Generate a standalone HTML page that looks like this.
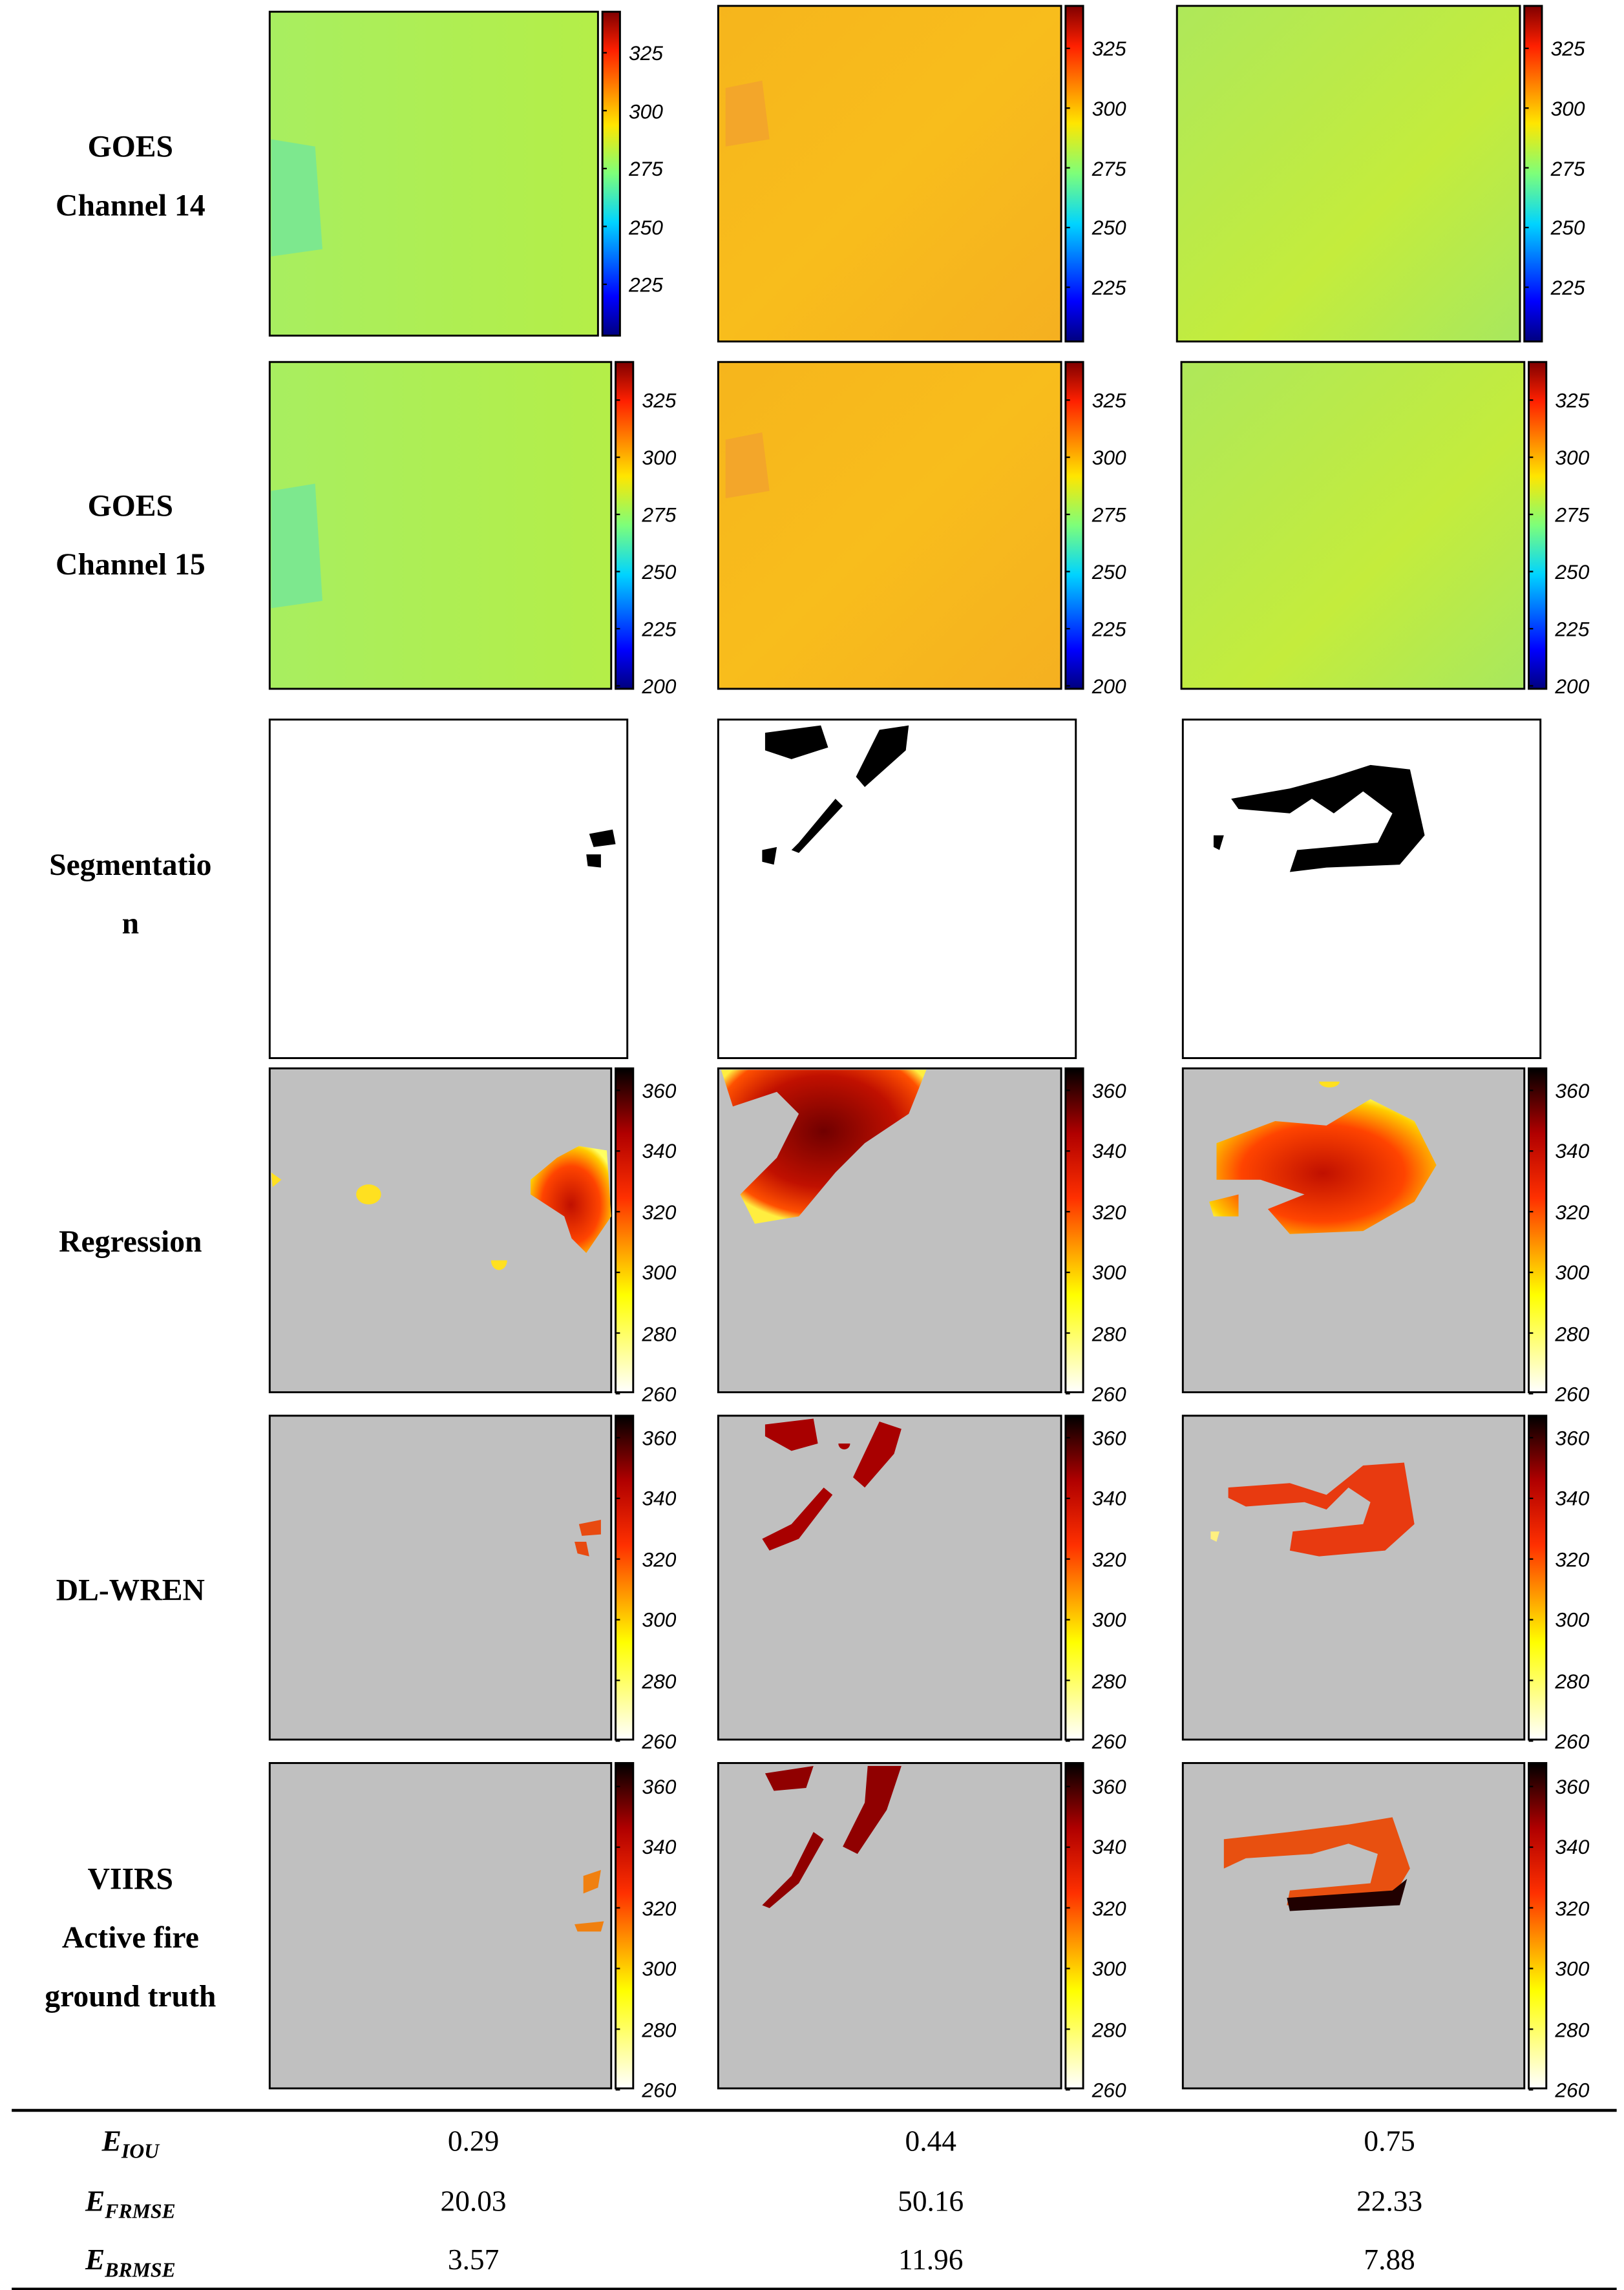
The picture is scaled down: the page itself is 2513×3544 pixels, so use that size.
<!DOCTYPE html>
<html><head><meta charset="utf-8">
<style>
html,body{margin:0;padding:0;background:#fff;}
body{width:2513px;height:3543px;overflow:hidden;position:relative;}
#wrap{position:absolute;left:0;top:0;width:1108px;height:1562px;transform:scale(2.26805);transform-origin:0 0;font-family:"Liberation Serif",serif;}
.lbl{position:absolute;width:178px;left:0;text-align:center;font-weight:bold;font-size:21px;line-height:40px;}
.tick{position:absolute;font-family:"Liberation Sans",sans-serif;font-style:italic;font-size:14px;transform:translateY(-50%);}
.cell{position:absolute;font-size:20px;transform:translate(-50%,-50%);}
</style></head>
<body>
<div id="wrap">
<div class="lbl" style="top:80px">GOES<br>Channel 14</div>
<div class="lbl" style="top:325px">GOES<br>Channel 15</div>
<div class="lbl" style="top:570px">Segmentatio<br>n</div>
<div class="lbl" style="top:827px">Regression</div>
<div class="lbl" style="top:1065px">DL-WREN</div>
<div class="lbl" style="top:1262px">VIIRS<br>Active fire<br>ground truth</div>
<svg id="svg" width="1108" height="1562" style="position:absolute;left:0;top:0">
<defs>
<linearGradient id="jet" x1="0" y1="1" x2="0" y2="0">
<stop offset="0" stop-color="#00007f"/><stop offset="0.12" stop-color="#0000ff"/><stop offset="0.35" stop-color="#00d4ff"/><stop offset="0.5" stop-color="#7dff7a"/><stop offset="0.65" stop-color="#ffe600"/><stop offset="0.88" stop-color="#ff2000"/><stop offset="1" stop-color="#800000"/></linearGradient>
<linearGradient id="hot" x1="0" y1="1" x2="0" y2="0">
<stop offset="0" stop-color="#ffffff"/><stop offset="0.3" stop-color="#ffff00"/><stop offset="0.6" stop-color="#ff3000"/><stop offset="0.8" stop-color="#b00000"/><stop offset="1" stop-color="#000000"/></linearGradient>
<linearGradient id="g1" x1="0" y1="0" x2="1" y2="0"><stop offset="0" stop-color="#a8ee60"/><stop offset="1" stop-color="#b4ee48"/></linearGradient>
<linearGradient id="g2" x1="0" y1="0" x2="1" y2="1"><stop offset="0" stop-color="#f6b51c"/><stop offset="0.5" stop-color="#f8bd1c"/><stop offset="1" stop-color="#f5b020"/></linearGradient>
<linearGradient id="g3" x1="0" y1="0" x2="1" y2="1"><stop offset="0" stop-color="#aee85a"/><stop offset="0.6" stop-color="#c4ec3c"/><stop offset="1" stop-color="#a8e85e"/></linearGradient>
<radialGradient id="fire" cx="0.5" cy="0.55" r="0.6"><stop offset="0" stop-color="#c01000"/><stop offset="0.6" stop-color="#ff4400"/><stop offset="0.9" stop-color="#ffcc00"/><stop offset="1" stop-color="#ffff60"/></radialGradient>
<radialGradient id="fire2" cx="0.5" cy="0.4" r="0.6"><stop offset="0" stop-color="#700000"/><stop offset="0.6" stop-color="#c01000"/><stop offset="0.9" stop-color="#ff5000"/><stop offset="1" stop-color="#ffee40"/></radialGradient>
</defs>
</svg>
<div id="ticks"></div>
<div style="position:absolute;left:8px;top:1439px;width:1095px;height:1.5px;background:#000"></div>
<div style="position:absolute;left:8px;top:1561px;width:1095px;height:1.5px;background:#000"></div>
<div class="cell" style="left:89px;top:1464px;font-weight:bold;font-style:italic">E<sub style="font-size:14px">IOU</sub></div>
<div class="cell" style="left:89px;top:1505px;font-weight:bold;font-style:italic">E<sub style="font-size:14px">FRMSE</sub></div>
<div class="cell" style="left:89px;top:1545px;font-weight:bold;font-style:italic">E<sub style="font-size:14px">BRMSE</sub></div>
<div id="table"></div>
</div>
<script>
const metrics=["eiou","efrmse","ebrmse"];
const col1Values=["0.29","20.03","3.57"];
const col2Values=["0.44","50.16","11.96"];
const col3Values=["0.75","22.33","7.88"];
const jetTicks1=[325,300,275,250,225];
const jetTicks2=[325,300,275,250,225,200];
const hotTicks=[360,340,320,300,280,260];
const NS="http://www.w3.org/2000/svg";
const svg=document.getElementById('svg');
const ticksDiv=document.getElementById('ticks');
function rect(x,y,w,h,fill,name,stroke){const r=document.createElementNS(NS,'rect');r.setAttribute('x',x);r.setAttribute('y',y);r.setAttribute('width',w);r.setAttribute('height',h);r.setAttribute('fill',fill);if(stroke){r.setAttribute('stroke','#000');r.setAttribute('stroke-width',1.3);}


svg.appendChild(r);return r;}
function path(d,fill,name){const p=document.createElementNS(NS,'path');p.setAttribute('d',d);p.setAttribute('fill',fill);


svg.appendChild(p);}
function cbar(x,y,h,grad,ticks,t0,t1,name){rect(x,y,12,h,'url(#'+grad+')',name,true);
ticks.forEach((t,i)=>{const ty=t0+(t1-t0)*i/(ticks.length-1);
const l=document.createElementNS(NS,'line');l.setAttribute('x1',x);l.setAttribute('x2',x+3);l.setAttribute('y1',ty);l.setAttribute('y2',ty);l.setAttribute('stroke','#000');svg.appendChild(l);
const d=document.createElement('div');d.className='tick';d.style.left=(x+18)+'px';d.style.top=ty+'px';d.textContent=t;


ticksDiv.appendChild(d);});}
// row 1
rect(184,8,224,221,'url(#g1)','ch14-panel-1',true);
path('M185 95 L215 100 L220 170 L185 175Z','#7de88e','ch14-cool-region');
cbar(411,8,221,'jet',jetTicks1,36,194,'ch14-colorbar-1');
rect(490,4,234,229,'url(#g2)','ch14-panel-2',true);
path('M495 60 L520 55 L525 95 L495 100Z','#f3a62a','ch14-warm-patch');
cbar(727,4,229,'jet',jetTicks1,33,196,'ch14-colorbar-2');
rect(803,4,234,229,'url(#g3)','ch14-panel-3',true);
cbar(1040,4,229,'jet',jetTicks1,33,196,'ch14-colorbar-3');
// row 2
rect(184,247,233,223,'url(#g1)','ch15-panel-1',true);
path('M185 335 L215 330 L220 410 L185 415Z','#7de88e','ch15-cool-region');
cbar(420,247,223,'jet',jetTicks2,273,468,'ch15-colorbar-1');
rect(490,247,234,223,'url(#g2)','ch15-panel-2',true);
path('M495 300 L520 295 L525 335 L495 340Z','#f3a62a','ch15-warm-patch');
cbar(727,247,223,'jet',jetTicks2,273,468,'ch15-colorbar-2');
rect(806,247,234,223,'url(#g3)','ch15-panel-3',true);
cbar(1043,247,223,'jet',jetTicks2,273,468,'ch15-colorbar-3');
// row 3 segmentation
rect(184,491,244,231,'#fff','seg-panel-1',true);
path('M402 569 L418 566 L420 576 L405 578Z M400 583 L410 583 L410 592 L401 591Z','#000','seg-mask-1');
rect(490,491,244,231,'#fff','seg-panel-2',true);
path('M522 500 L560 495 L565 510 L540 518 L522 512Z M600 498 L620 495 L618 512 L590 537 L584 530Z M570 545 L545 575 L540 580 L545 582 L575 550Z M520 580 L530 578 L528 590 L520 588Z','#000','seg-mask-2');
rect(807,491,244,231,'#fff','seg-panel-3',true);
path('M840 545 L880 538 L910 530 L935 522 L962 525 L972 570 L955 590 L905 592 L880 595 L885 580 L940 575 L950 555 L930 540 L910 555 L895 545 L880 555 L845 552Z M828 570 L835 570 L832 580 L828 578Z','#000','seg-mask-3');
// rows 4-6
const hotRows=[[729,221,'regression',744,951],[966,221,'dlwren',981,1188],[1203,222,'viirs',1219,1426]];
hotRows.forEach(r=>{
 rect(184,r[0],233,r[1],'#c0c0c0',r[2]+'-panel-1',true);cbar(420,r[0],r[1],'hot',hotTicks,r[3],r[4],r[2]+'-colorbar-1');
 rect(490,r[0],234,r[1],'#c0c0c0',r[2]+'-panel-2',true);cbar(727,r[0],r[1],'hot',hotTicks,r[3],r[4],r[2]+'-colorbar-2');
 rect(807,r[0],233,r[1],'#c0c0c0',r[2]+'-panel-3',true);cbar(1043,r[0],r[1],'hot',hotTicks,r[3],r[4],r[2]+'-colorbar-3');
});
// regression blobs
path('M362 805 L380 790 L395 782 L414 785 L417 830 L400 855 L390 845 L385 830 L362 815Z','url(#fire)','regression-fire-1');
path('M243 815 A5 4 0 1 0 260 815 A5 4 0 1 0 243 815Z M335 860 A5 6 0 1 0 346 860Z M185 800 L192 805 L186 810Z','#ffe020','regression-spots-1');
path('M492 730 L632 730 L620 760 L590 780 L570 800 L545 830 L515 835 L505 815 L530 790 L545 760 L530 745 L500 755Z','url(#fire2)','regression-fire-2');
path('M830 780 L870 765 L905 768 L935 750 L965 765 L980 795 L965 820 L930 840 L880 842 L865 825 L890 815 L860 805 L830 805Z M825 820 L845 815 L845 830 L828 830Z','url(#fire)','regression-fire-3');
path('M900 738 A7 4 0 1 0 914 738Z','#ffe020','regression-spot-3');
// dl-wren blobs
path('M395 1040 L410 1037 L410 1047 L397 1048Z M392 1052 L400 1052 L402 1062 L394 1060Z','#e84a10','dlwren-mask-1');
path('M522 972 L555 968 L558 985 L540 990 L522 980Z M600 970 L615 975 L610 992 L590 1015 L582 1008Z M568 1020 L545 1050 L525 1058 L520 1050 L540 1040 L562 1015Z M572 985 A4 4 0 1 0 580 985Z','#a80000','dlwren-mask-2');
path('M838 1015 L880 1012 L905 1020 L930 1000 L958 998 L965 1040 L945 1058 L900 1062 L880 1058 L882 1045 L930 1040 L935 1025 L920 1015 L905 1030 L890 1025 L850 1028 L838 1022Z','#e83a10','dlwren-mask-3');
path('M826 1045 L832 1045 L830 1052 L826 1050Z','#fff080','dlwren-spot-3');
// viirs blobs
path('M398 1280 L410 1276 L408 1288 L398 1292Z M392 1313 L412 1311 L410 1318 L394 1318Z','#f08010','viirs-mask-1');
path('M522 1210 L555 1205 L550 1220 L528 1222Z M592 1205 L615 1205 L605 1235 L585 1265 L575 1260 L590 1230Z M555 1250 L540 1280 L520 1300 L525 1302 L545 1285 L562 1255Z','#900000','viirs-mask-2');
path('M835 1255 L880 1250 L920 1245 L950 1240 L962 1275 L950 1295 L905 1302 L878 1300 L880 1290 L935 1285 L940 1265 L920 1258 L895 1265 L850 1268 L835 1275Z','#e85010','viirs-mask-3');
path('M878 1295 L950 1290 L960 1282 L955 1300 L880 1304Z','#200000','viirs-edge-3');
// table
const tbl=document.getElementById('table');
const colX=[323,635,948];const rowY=[1462,1503,1543];
[col1Values,col2Values,col3Values].forEach((vals,c)=>vals.forEach((v,r)=>{
 const d=document.createElement('div');d.className='cell';d.style.left=colX[c]+'px';d.style.top=rowY[r]+'px';d.textContent=v;
 
 
 tbl.appendChild(d);}));
</script>
</body></html>
